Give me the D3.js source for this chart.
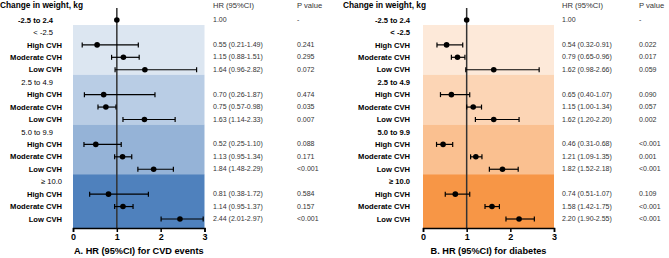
<!DOCTYPE html>
<html>
<head>
<meta charset="utf-8">
<script src="https://cdn.jsdelivr.net/npm/d3@7"></script>
<style>
  body { margin: 0; background: #fff; }
  text { font-family: Arial, "Liberation Sans", sans-serif; }
</style>
</head>
<body>
<script>
var w = 669,
    h = 258;

// Data
var groups = ['-2.5 to 2.4', '< -2.5', '2.5 to 4.9', '5.0 to 9.9', '\u2265 10.0'];
var levels = ['High CVH', 'Moderate CVH', 'Low CVH'];
var ticks = [0, 1, 2, 3];

// CVD events (panel A), order: <-2.5, 2.5-4.9, 5.0-9.9, >=10 ; High, Moderate, Low
var cvdHR = [0.55, 1.15, 1.64, 0.70, 0.75, 1.63, 0.52, 1.13, 1.84, 0.81, 1.14, 2.44];
var cvdLo = [0.21, 0.88, 0.96, 0.26, 0.57, 1.14, 0.25, 0.95, 1.48, 0.38, 0.95, 2.01];
var cvdHi = [1.49, 1.51, 2.82, 1.87, 0.98, 2.33, 1.10, 1.34, 2.29, 1.72, 1.37, 2.97];
var cvdP  = ['0.241', '0.295', '0.072', '0.474', '0.035', '0.007', '0.088', '0.171', '<0.001', '0.584', '0.157', '<0.001'];

// Diabetes (panel B)
var dmHR = [0.54, 0.79, 1.62, 0.65, 1.15, 1.62, 0.46, 1.21, 1.82, 0.74, 1.58, 2.20];
var dmLo = [0.32, 0.65, 0.98, 0.40, 1.00, 1.20, 0.31, 1.09, 1.52, 0.51, 1.42, 1.90];
var dmHi = [0.91, 0.96, 2.66, 1.07, 1.34, 2.20, 0.68, 1.35, 2.18, 1.07, 1.75, 2.55];
var dmP  = ['0.022', '0.017', '0.059', '0.090', '0.057', '0.002', '<0.001', '0.001', '<0.001', '0.109', '<0.001', '<0.001'];

var bandsA = ['#dce6f1', '#b9cde5', '#95b3d7', '#4f81bd'];
var bandsB = ['#fde9d9', '#fcd5b5', '#fac090', '#f79646'];

var svg = d3.select('body')
            .append('svg')
            .attr('width', w)
            .attr('height', h);

var f2 = d3.format('.2f');

// build the 17 rows: reference row, then header + 3 levels per group
function buildRows(hr, lo, hi, p) {
  var rows = [{label: groups[0], head: true, hr: 1, ref: true, p: '-'}];
  for (var g = 1; g < groups.length; g++) {
    rows.push({label: groups[g], head: true, group: g});
    for (var k = 0; k < 3; k++) {
      var i = (g - 1) * 3 + k;
      rows.push({label: levels[k], hr: hr[i], lo: lo[i], hi: hi[i], p: p[i]});
    }
  }
  return rows;
}

var y = d3.scaleLinear()
          .domain([0, 16])
          .range([20, 219]);
var step = y(1) - y(0);
var axisY = 228;

function drawPanel(opt) {
  var rows = buildRows(opt.hr, opt.lo, opt.hi, opt.p);
  var x = d3.scaleLinear()
            .domain([0, 3])
            .range([opt.x0, opt.x1]);
  var g = svg.append('g');

  // shaded bands, one per group
  var starts = [1, 5, 9, 13];
  g.selectAll('rect.band')
   .data(starts)
   .enter()
   .append('rect')
   .attr('x', x(0))
   .attr('width', x(3) - x(0))
   .attr('y', function(d) { return y(d) - 0.6 * step; })
   .attr('height', function(d, i) {
      var end = i < starts.length - 1 ? y(starts[i + 1]) - 0.6 * step : axisY;
      return end - (y(d) - 0.6 * step);
   })
   .style('fill', function(d, i) { return opt.bands[i]; });

  // reference line at HR = 1
  g.append('line')
   .attr('x1', x(1)).attr('x2', x(1))
   .attr('y1', 8).attr('y2', axisY)
   .style('stroke', '#333')
   .style('stroke-width', 1.5);

  // axis
  var axis = g.append('g')
              .attr('transform', 'translate(0,' + axisY + ')')
              .call(d3.axisBottom(x).tickValues(ticks).tickSize(4).tickFormat(d3.format('d')));
  axis.select('.domain').style('stroke', '#000').style('stroke-width', 1.5);
  axis.selectAll('.tick line').style('stroke', '#000').style('stroke-width', 1.5);
  axis.selectAll('.tick text')
      .attr('y', 6)
      .style('font-size', '9px')
      .style('font-weight', 'bold')
      .style('fill', '#000');

  // axis title
  g.append('text')
   .attr('x', (x(0) + x(3)) / 2)
   .attr('y', 254)
   .attr('text-anchor', 'middle')
   .style('font-size', '9.2px')
   .style('font-weight', 'bold')
   .text(opt.title);

  // column headers
  g.append('text')
   .attr('x', opt.headX)
   .attr('y', 8)
   .style('font-size', '8.3px')
   .style('font-weight', 'bold')
   .text('Change in weight, kg');
  g.append('text')
   .attr('x', opt.hrX)
   .attr('y', 8)
   .style('font-size', '7.6px')
   .style('fill', '#333')
   .text('HR (95%CI)');
  g.append('text')
   .attr('x', opt.pX)
   .attr('y', 8)
   .style('font-size', '7.6px')
   .style('fill', '#333')
   .text('P value');

  var row = g.selectAll('g.row')
             .data(rows)
             .enter()
             .append('g')
             .attr('transform', function(d, i) { return 'translate(0,' + y(i) + ')'; });

  // row labels
  row.append('text')
     .attr('x', function(d, i) {
        if (d.head && opt.headInset && d.group !== 4) return opt.labelX - opt.headInset;
        return opt.labelX;
     })
     .attr('dy', '0.35em')
     .attr('text-anchor', 'end')
     .style('font-size', '7.6px')
     .style('font-weight', function(d, i) {
        return (d.head && i > 0) ? opt.headWeight : 'bold';
     })
     .text(function(d) { return d.label; });

  // CI whiskers with caps
  var ci = row.filter(function(d) { return d.lo !== undefined; });
  ci.append('line')
    .attr('x1', function(d) { return x(d.lo); })
    .attr('x2', function(d) { return x(d.hi); })
    .style('stroke', '#000')
    .style('stroke-width', 1.2);
  ci.append('line')
    .attr('x1', function(d) { return x(d.lo); })
    .attr('x2', function(d) { return x(d.lo); })
    .attr('y1', -2.5).attr('y2', 2.5)
    .style('stroke', '#000')
    .style('stroke-width', 1.2);
  ci.append('line')
    .attr('x1', function(d) { return x(d.hi); })
    .attr('x2', function(d) { return x(d.hi); })
    .attr('y1', -2.5).attr('y2', 2.5)
    .style('stroke', '#000')
    .style('stroke-width', 1.2);

  // points
  row.filter(function(d) { return d.hr !== undefined; })
     .append('circle')
     .attr('cx', function(d) { return x(d.hr); })
     .attr('r', 2.8)
     .style('fill', '#000');

  // HR text and p values
  row.filter(function(d) { return d.hr !== undefined; })
     .append('text')
     .attr('x', opt.hrX)
     .attr('dy', '0.3em')
     .style('font-size', '7px')
     .style('fill', '#333')
     .text(function(d) {
        return d.ref ? f2(d.hr) : f2(d.hr) + ' (' + f2(d.lo) + '-' + f2(d.hi) + ')';
     });
  row.filter(function(d) { return d.p !== undefined; })
     .append('text')
     .attr('x', opt.pX)
     .attr('dy', '0.3em')
     .style('font-size', '7px')
     .style('fill', '#333')
     .text(function(d) { return d.p; });
}

drawPanel({
  hr: cvdHR, lo: cvdLo, hi: cvdHi, p: cvdP,
  bands: bandsA,
  x0: 73, x1: 204.5,
  headX: 0, labelX: 62, headInset: 9, headWeight: 'normal',
  hrX: 213, pX: 297,
  title: 'A. HR (95%CI) for CVD events'
});

drawPanel({
  hr: dmHR, lo: dmLo, hi: dmHi, p: dmP,
  bands: bandsB,
  x0: 423, x1: 554,
  headX: 343, labelX: 410, headInset: 0, headWeight: 'bold',
  hrX: 562, pX: 639,
  title: 'B. HR (95%CI) for diabetes'
});
</script>
</body>
</html>
